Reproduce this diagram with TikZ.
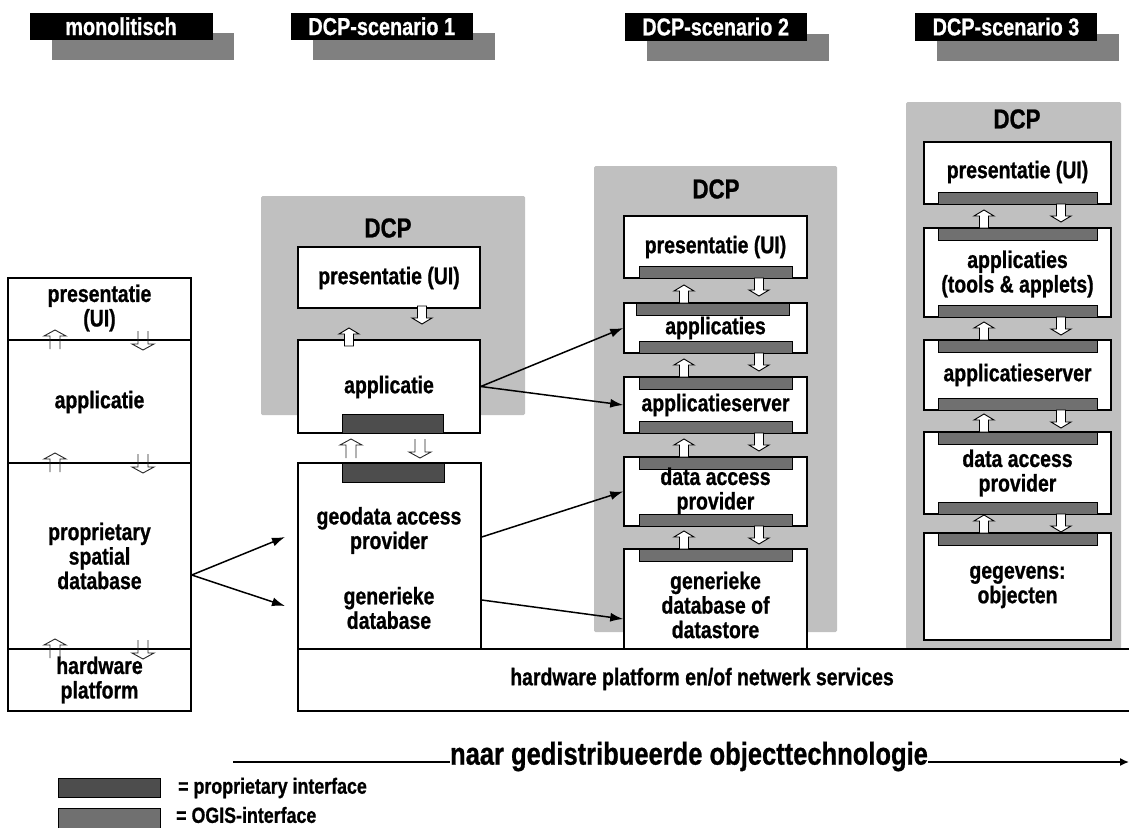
\documentclass[tikz,border=0pt]{standalone}
\usepackage{fontspec}
\setmainfont{Liberation Sans}[FakeStretch=0.81, BoldFeatures={FakeBold=0.8}]
\usetikzlibrary{arrows.meta,fit}

\definecolor{dcpbg}{RGB}{192,192,192}
\definecolor{shadowgray}{RGB}{128,128,128}
\definecolor{propbar}{RGB}{77,77,77}
\definecolor{ogisbar}{RGB}{112,112,112}

\tikzset{
  box/.style={draw=black, line width=1.5pt, fill=white, inner sep=0pt},
  dcpbox/.style={fill=dcpbg, draw=none, inner sep=0pt, rounded corners=1.5pt},
  ogis/.style={draw=black, line width=0.9pt, fill=ogisbar, inner sep=0pt},
  prop/.style={draw=black, line width=0.9pt, fill=propbar, inner sep=0pt},
  hdr/.style={fill=black, draw=none, inner sep=0pt},
  hdrshadow/.style={fill=shadowgray, draw=none, inner sep=0pt},
  hdrtxt/.style={text=white, inner sep=0pt, font=\fontsize{24.5}{26}\selectfont\bfseries},
  txt/.style={inner sep=0pt, align=center, font=\fontsize{24}{24.5}\selectfont\bfseries},
  dcptxt/.style={inner sep=0pt, font=\fontsize{27.5}{29}\selectfont\bfseries},
  legtxt/.style={inner sep=0pt, anchor=west, font=\fontsize{22}{23}\selectfont\bfseries},
  bigtxt/.style={inner sep=0pt, font=\fontsize{31.5}{33}\selectfont\bfseries},
  conn/.style={line width=1.5pt, -{Latex[length=13pt,width=9pt]}},
  blockarr/.style={draw=black, fill=white, line width=0.9pt},
  openarr/.style={draw=black!85, line width=0.9pt},
  pics/uparr/.style={code={\path[pic actions] (-4.5,0) -- (-4.5,-12) -- (-10,-12) -- (0,-18) -- (10,-12) -- (4.5,-12) -- (4.5,0) -- cycle;}},
  pics/dnarr/.style={code={\path[pic actions] (-4.5,0) -- (-4.5,12) -- (-10,12) -- (0,18) -- (10,12) -- (4.5,12) -- (4.5,0) -- cycle;}},
  pics/uparro/.style={code={\path[pic actions] (-5,0) -- (-5,-13) -- (-11,-13) -- (0,-19) -- (11,-13) -- (5,-13) -- (5,0);}},
  pics/dnarro/.style={code={\path[pic actions] (-5,0) -- (-5,13) -- (-11,13) -- (0,19) -- (11,13) -- (5,13) -- (5,0);}},
}

\begin{document}
\begin{tikzpicture}[x=1pt,y=-1pt]
\useasboundingbox (0,0) rectangle (1129,827);

% ---------- scenario headers ----------
\node[hdrshadow, fit={(51.8,33) (234,60)}] (h0s) {};
\node[hdr, fit={(29.6,12.5) (212.5,40)}] (h0) {};
\node[hdrtxt] (h0t) at (h0.center) {monolitisch};

\node[hdrshadow, fit={(312.5,33) (494.6,60)}] (h1s) {};
\node[hdr, fit={(291,12.5) (472.5,40)}] (h1) {};
\node[hdrtxt] (h1t) at (h1.center) {DCP-scenario 1};

\node[hdrshadow, fit={(647,33.7) (828.5,60.6)}] (h2s) {};
\node[hdr, fit={(624.6,12.7) (806.7,40.6)}] (h2) {};
\node[hdrtxt] (h2t) at (h2.center) {DCP-scenario 2};

\node[hdrshadow, fit={(937.4,33.7) (1118.8,60.6)}] (h3s) {};
\node[hdr, fit={(915,12.7) (1097,40.6)}] (h3) {};
\node[hdrtxt] (h3t) at (h3.center) {DCP-scenario 3};

% ---------- DCP backgrounds ----------
\node[dcpbox, fit={(261,196) (525,415)}] (dcp1) {};
\node[dcpbox, fit={(594,166) (837,632)}] (dcp2) {};
\node[dcpbox, fit={(906,102) (1121,649)}] (dcp3) {};
\node[dcptxt] (dcp1t) at (388,228) {DCP};
\node[dcptxt] (dcp2t) at (716,189) {DCP};
\node[dcptxt] (dcp3t) at (1017,119) {DCP};

% ---------- monolithic stack ----------
\node[box, fit={(8,278) (191,340)}] (mpres) {};
\node[box, fit={(8,340) (191,463)}] (mapp) {};
\node[box, fit={(8,463) (191,649)}] (mdb) {};
\node[box, fit={(8,649) (191,711)}] (mhw) {};
\node[txt] (mprest) at (99.5,308) {presentatie\\(UI)};
\node[txt] (mappt) at (99.5,402) {applicatie};
\node[txt] (mdbt) at (99.5,556) {proprietary\\spatial\\database};
\node[txt] (mhwt) at (99.5,680) {hardware\\platform};
\foreach \y in {340,463,649} {
  \pic[openarr] at (55,\y+9) {uparro};
  \pic[openarr] at (143,\y-9) {dnarro};
}

% ---------- scenario 1 ----------
\node[box, fit={(298,247) (480,308)}] (pres1) {};
\node[box, fit={(298,340) (480,433)}] (app1) {};
\node[prop, fit={(342,414) (443,433)}] (app1bar) {};
\node[box, fit={(298,463) (481,649)}] (geo) {};
\node[prop, fit={(342,463) (444,482)}] (geobar) {};
\node[txt] (pres1t) at (389,278) {presentatie (UI)};
\node[txt] (app1t) at (389,387) {applicatie};
\node[txt] (geot) at (389,530.5) {geodata access\\provider};
\node[txt] (gent) at (389,608) {generieke\\database};
\pic[blockarr] at (422,306) {dnarr};
\pic[blockarr] at (349,346) {uparr};
\pic[openarr] at (351,458) {uparro};
\pic[openarr] at (420,439) {dnarro};

% ---------- scenario 2 ----------
\node[box, fit={(624,216) (807,278)}] (pres2) {};
\node[ogis, fit={(639,266) (792,278)}] (pres2b) {};
\node[box, fit={(624,303) (807,353)}] (apps2) {};
\node[ogis, fit={(636,303) (789,315)}] (apps2a) {};
\node[ogis, fit={(639,341) (792,353)}] (apps2b) {};
\node[box, fit={(624,377) (807,433)}] (srv2) {};
\node[ogis, fit={(639,377) (792,389)}] (srv2a) {};
\node[ogis, fit={(639,421) (792,433)}] (srv2b) {};
\node[box, fit={(624,457) (807,526)}] (dap2) {};
\node[ogis, fit={(639,457) (792,469)}] (dap2a) {};
\node[ogis, fit={(639,514) (792,526)}] (dap2b) {};
\node[box, fit={(624,549) (807,652)}] (gen2) {};
\node[ogis, fit={(639,549) (792,561)}] (gen2a) {};
\node[txt] (pres2t) at (715.5,247) {presentatie (UI)};
\node[txt] (apps2t) at (715.5,328) {applicaties};
\node[txt] (srv2t) at (715.5,405) {applicatieserver};
\node[txt] (dap2t) at (715.5,491) {data access\\provider};
\node[txt] (gen2t) at (715.5,605) {generieke\\database of\\datastore};
\foreach \lo/\hi in {278/303, 353/377, 433/457, 526/549} {
  \pic[blockarr] at (684,\hi) {uparr};
  \pic[blockarr] at (759,\lo) {dnarr};
}

% ---------- scenario 3 ----------
\node[box, fit={(924,142) (1111,204)}] (pres3) {};
\node[ogis, fit={(938,192) (1097,204)}] (pres3b) {};
\node[box, fit={(924,228) (1111,317)}] (apps3) {};
\node[ogis, fit={(938,228) (1097,240)}] (apps3a) {};
\node[ogis, fit={(938,305) (1097,317)}] (apps3b) {};
\node[box, fit={(924,340) (1111,410)}] (srv3) {};
\node[ogis, fit={(938,340) (1097,352)}] (srv3a) {};
\node[ogis, fit={(938,398) (1097,410)}] (srv3b) {};
\node[box, fit={(924,432) (1111,514)}] (dap3) {};
\node[ogis, fit={(938,432) (1097,444)}] (dap3a) {};
\node[ogis, fit={(938,502) (1097,514)}] (dap3b) {};
\node[box, fit={(924,533) (1111,640)}] (geg3) {};
\node[ogis, fit={(938,533) (1097,545)}] (geg3a) {};
\node[txt] (pres3t) at (1017.5,172) {presentatie (UI)};
\node[txt] (apps3t) at (1017.5,274) {applicaties\\(tools \& applets)};
\node[txt] (srv3t) at (1017.5,375) {applicatieserver};
\node[txt] (dap3t) at (1017.5,473) {data access\\provider};
\node[txt] (geg3t) at (1017.5,587) {gegevens:\\objecten};
\foreach \lo/\hi in {204/228, 317/340, 410/432, 514/533} {
  \pic[blockarr] at (984,\hi) {uparr};
  \pic[blockarr] at (1061,\lo) {dnarr};
}

% ---------- shared platform ----------
\node[box, fit={(298,649) (1140,711)}] (hw) {};
\node[txt] (hwt) at (702,679) {hardware platform en/of netwerk services};

% ---------- connectors ----------
\coordinate (m1) at (285,537);
\coordinate (m2) at (285,606);
\draw[conn] ([yshift=-19pt]mdb.east) -- (m1);
\draw[conn] ([yshift=-19pt]mdb.east) -- (m2);
\draw[conn] (app1.east) -- (apps2.west);
\draw[conn] (app1.east) -- (srv2.west);
\draw[conn] ([yshift=19pt]geo.east) -- (dap2.west);
\draw[conn] ([yshift=-44pt]geo.east) -- ([yshift=-18.5pt]gen2.west);

% ---------- evolution arrow ----------
\coordinate (evs) at (233,762);
\coordinate (eve) at (1129,762);
\node[bigtxt, anchor=mid] (evt) at (689,762) {naar gedistribueerde objecttechnologie};
\draw[line width=1.5pt] (evs) -- (evt.mid west);
\draw[line width=1.5pt, -{Latex[length=9pt,width=8pt]}] (evt.mid east) -- (eve);

% ---------- legend ----------
\node[prop, fit={(58,778) (160,797)}] (legp) {};
\node[ogis, fit={(58,808) (160,832)}] (lego) {};
\node[legtxt] (legpt) at (178,788) {= proprietary interface};
\node[legtxt] (legot) at (176,815) {= OGIS-interface};
\end{tikzpicture}
\end{document}
